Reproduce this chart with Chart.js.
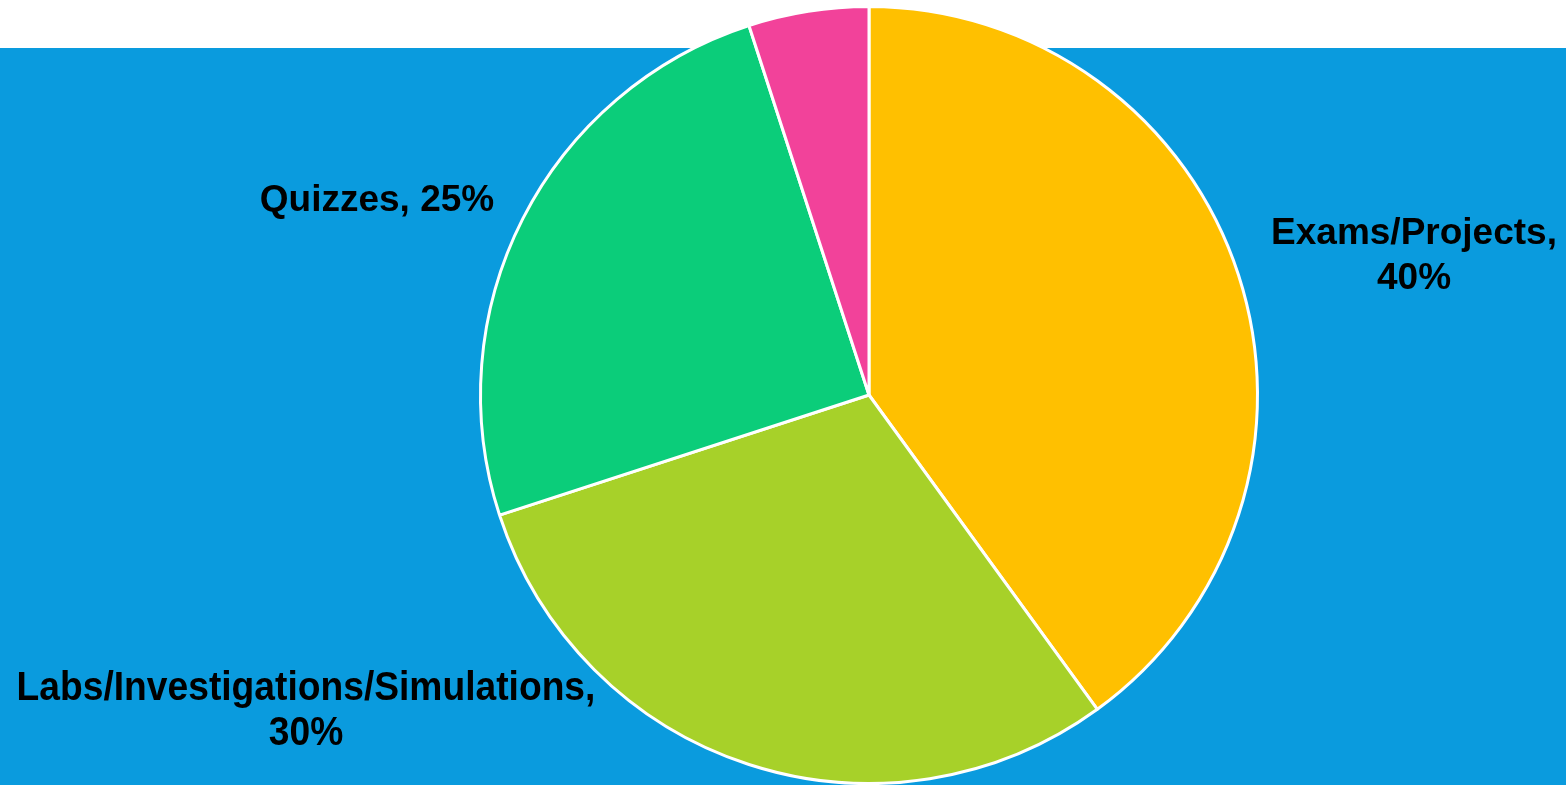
<!DOCTYPE html>
<html>
<head>
<meta charset="utf-8">
<script src="https://cdn.jsdelivr.net/npm/chart.js@4.4.0/dist/chart.umd.min.js"></script>
<style>
  html, body { margin: 0; padding: 0; background: #fff; }
  #wrap { width: 1566px; height: 785px; position: relative; }
</style>
</head>
<body>
<div id="wrap"><canvas id="gradeChart"></canvas></div>
<script>
const categories = ['Exams/Projects', 'Labs/Investigations/Simulations', 'Quizzes', 'Other'];
const weights = [40, 30, 25, 5];
const sliceColors = ['#FFC000', '#A7D129', '#0BCD7A', '#F2429A'];

// where each slice label sits (null = no label shown); squeeze = horizontal text scale
const labelLayout = [
  { x: 1414, y: 234, lines: 2, size: 37, squeeze: 1 },
  { x: 306, y: 689, lines: 2, size: 40, squeeze: 0.93 },
  { x: 377, y: 201, lines: 1, size: 37, squeeze: 1 },
  null
];

const backdrop = {
  id: 'backdrop',
  beforeDraw(chart) {
    const c = chart.ctx;
    c.save();
    c.fillStyle = '#ffffff';
    c.fillRect(0, 0, chart.width, chart.height);
    c.fillStyle = '#0A9BDE';
    c.fillRect(0, 48, chart.width, chart.height - 48);
    c.restore();
  }
};

const sliceLabels = {
  id: 'sliceLabels',
  afterDatasetsDraw(chart) {
    const c = chart.ctx;
    categories.forEach((name, i) => {
      const pos = labelLayout[i];
      if (!pos) return;
      const text = pos.lines === 2
        ? [name + ',', weights[i] + '%']
        : [name + ', ' + weights[i] + '%'];
      c.save();
      c.fillStyle = '#000';
      c.textAlign = 'center';
      c.textBaseline = 'middle';
      c.font = 'bold ' + pos.size + 'px "Liberation Sans", Arial, sans-serif';
      c.translate(pos.x, pos.y);
      c.scale(pos.squeeze, 1);
      text.forEach((t, k) => c.fillText(t, 0, k * 45));
      c.restore();
    });
  }
};

const ctx = document.getElementById('gradeChart').getContext('2d');

new Chart(ctx, {
  type: 'pie',
  data: {
    labels: categories,
    datasets: [{
      data: weights,
      backgroundColor: sliceColors,
      borderColor: '#ffffff',
      borderWidth: 3
    }]
  },
  options: {
    responsive: true,
    maintainAspectRatio: false,
    animation: false,
    layout: { padding: { left: 172, right: 0, top: 5, bottom: 0 } },
    plugins: {
      legend: { display: false },
      tooltip: { enabled: false }
    }
  },
  plugins: [backdrop, sliceLabels]
});
</script>
</body>
</html>
